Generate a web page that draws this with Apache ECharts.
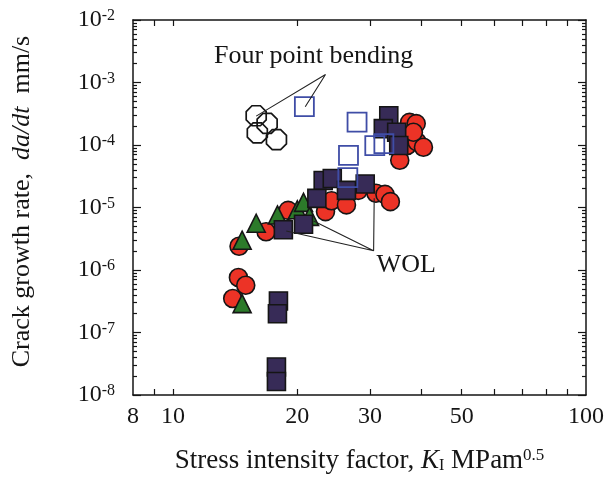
<!DOCTYPE html>
<html><head><meta charset="utf-8">
<script src="https://cdn.jsdelivr.net/npm/echarts@6/dist/echarts.min.js"></script>
<style>html,body{margin:0;padding:0;background:#fff}#c{width:607px;height:479px}</style>
</head><body><div id="c"></div>
<script>
// ---- tick values ----
const xLabelValues = [8, 10, 20, 30, 50, 100];
const xTickValues = [9, 10, 20, 30, 40, 50, 60, 70, 80, 90];
const yLabelValues = [1e-8, 1e-7, 1e-6, 1e-5, 1e-4, 1e-3, 1e-2];

// ---- data (K in MPa m^0.5, da/dt in mm/s) ----
const circleK    = [35.4, 36.9, 35.2, 37.1, 36.3, 37.5, 37.4, 38.8, 39.0, 40.4, 38.2,
                    14.45, 16.8, 19.0, 23.4, 24.2, 26.3, 28.1, 31.0, 32.6, 33.6,
                    14.4, 15.0, 13.95];
const circleRate = [5.7e-5, 9.8e-5, 1.25e-4, 1.45e-4, 1.65e-4, 1.9e-4, 2.3e-4, 2.2e-4, 1.12e-4, 9.2e-5, 1.6e-4,
                    2.4e-6, 4.1e-6, 9.0e-6, 8.6e-6, 1.28e-5, 1.1e-5, 1.88e-5, 1.69e-5, 1.62e-5, 1.24e-5,
                    7.6e-7, 5.7e-7, 3.5e-7];

const triK    = [14.7, 15.9, 17.9, 20.0, 20.7, 21.4, 14.7];
const triRate = [3.0e-6, 5.6e-6, 7.6e-6, 9.2e-6, 1.21e-5, 7.2e-6, 2.9e-7];

const sqK    = [33.3, 32.3, 34.8, 35.2, 23.1, 24.3, 29.2, 22.3, 26.3, 20.7, 18.5, 18.0, 17.9, 17.8, 17.8];
const sqRate = [2.94e-4, 1.83e-4, 1.6e-4, 9.8e-5, 2.71e-5, 2.91e-5, 2.38e-5, 1.4e-5, 1.88e-5, 5.4e-6, 4.4e-6,
                3.2e-7, 2.0e-7, 2.8e-8, 1.64e-8];

const openSqK    = [20.8, 27.9, 30.8, 32.4, 26.6, 26.5];
const openSqRate = [4.1e-4, 2.33e-4, 9.8e-5, 1.05e-4, 6.8e-5, 3.0e-5];

const octK    = [15.9, 16.9, 16.0, 17.8];
const octRate = [2.94e-4, 2.22e-4, 1.56e-4, 1.22e-4];

// annotation leader lines (end -> apex -> end ...)
const fpbLineK    = [20.9, 23.4, 15.9];
const fpbLineRate = [4.1e-4, 1.34e-3, 2.9e-4];
const wolLineK    = [18.8, 30.6, 21.9, 30.6, 30.7];
const wolLineRate = [4.2e-6, 2.03e-6, 6.1e-6, 2.03e-6, 1.4e-5];

const annotText = ['Four point bending', 'WOL'];
const annotK    = [21.9, 36.7];
const annotRate = [2.59e-3, 1.175e-6];

// ---- build ----
const FONT = 'Liberation Serif';
const INK = '#151515';
const pairs = (a, b) => a.map((v, i) => [v, b[i]]);
const yMinor = [];
for (let e = -8; e < -2; e++) for (let m = 2; m <= 9; m++) yMinor.push(m * Math.pow(10, e));

const axisLineStyle = { color: INK, width: 1.5 };
const xBase = (pos, showLabel) => ({
  type: 'log', logBase: 10, min: 8, max: 100, position: pos,
  axisLine: { show: true, onZero: false, lineStyle: axisLineStyle },
  axisTick: { show: true, inside: true, length: 6, customValues: xTickValues, lineStyle: { color: INK, width: 1.2 } },
  axisLabel: { show: showLabel, customValues: xLabelValues, formatter: v => String(Math.round(v)),
               fontFamily: FONT, fontSize: 24, color: INK, margin: 10 },
  splitLine: { show: false }, minorTick: { show: false }
});
const yBase = (pos, major, showLine) => ({
  type: 'log', logBase: 10, min: 1e-8, max: 1e-2, position: pos,
  axisLine: { show: showLine, onZero: false, lineStyle: axisLineStyle },
  axisTick: { show: true, inside: true, length: major ? 8 : 4, customValues: major ? yLabelValues : yMinor,
              lineStyle: { color: INK, width: 1.2 } },
  axisLabel: { show: false },
  splitLine: { show: false }
});

const x0 = xBase('bottom', true);
x0.name = 'Stress intensity factor, {i|K}{s|I} MPam{p|0.5}';
x0.nameLocation = 'middle';
x0.nameGap = 52;
x0.nameTextStyle = { fontFamily: FONT, fontSize: 27, color: INK,
  rich: { i: { fontFamily: FONT, fontSize: 27, fontStyle: 'italic', color: INK },
          s: { fontFamily: FONT, fontSize: 16, color: INK, verticalAlign: 'bottom', padding: [8, 0, 0, 0] },
          p: { fontFamily: FONT, fontSize: 17, color: INK, verticalAlign: 'top', padding: [0, 0, 10, 0] } } };

const y0 = yBase('left', true, true);
y0.axisLabel = { show: true, customValues: yLabelValues,
  formatter: v => '{a|10}{b|' + Math.round(Math.log10(v)) + '}',
  margin: 18, color: INK,
  rich: { a: { fontFamily: FONT, fontSize: 24, color: INK },
          b: { fontFamily: FONT, fontSize: 16, color: INK, verticalAlign: 'top', padding: [0, 0, 8, 0] } } };
y0.name = 'Crack growth rate,  {i|da/dt}  mm/s';
y0.nameLocation = 'middle';
y0.nameGap = 98;
y0.nameTextStyle = { fontFamily: FONT, fontSize: 26, color: INK, padding: [0, 0, 0, 12],
  rich: { i: { fontFamily: FONT, fontSize: 26, fontStyle: 'italic', color: INK } } };

const mk = (name, k, r, symbol, size, style, z) => ({
  name, type: 'scatter', xAxisIndex: 0, yAxisIndex: 0, symbol, symbolSize: size, z,
  itemStyle: Object.assign({ opacity: 1 }, style), data: pairs(k, r), emphasis: { disabled: true }
});
const octagon = 'path://M29,0 L71,0 L100,29 L100,71 L71,100 L29,100 L0,71 L0,29 Z';

const option = {
  animation: false,
  backgroundColor: '#fff',
  grid: { left: 133, right: 20, top: 20, bottom: 81, containLabel: false },
  xAxis: [x0, xBase('top', false)],
  yAxis: [y0, yBase('left', false, false), yBase('right', true, true), yBase('right', false, false)],
  series: [
    mk('circles', circleK, circleRate, 'circle', 18, { color: '#ec3326', borderColor: INK, borderWidth: 1.6 }, 2),
    mk('triangles', triK, triRate, 'triangle', 18, { color: '#2c7a2a', borderColor: INK, borderWidth: 1.6 }, 3),
    mk('squares', sqK, sqRate, 'rect', 18, { color: '#372b57', borderColor: INK, borderWidth: 1.6 }, 4),
    mk('open squares', openSqK, openSqRate, 'rect', 19, { color: 'rgba(255,255,255,0)', borderColor: '#3f4da6', borderWidth: 1.8 }, 5),
    mk('four point', octK, octRate, octagon, 20, { color: 'rgba(255,255,255,0)', borderColor: INK, borderWidth: 1.7 }, 6),
    { type: 'line', xAxisIndex: 0, yAxisIndex: 0, data: pairs(fpbLineK, fpbLineRate), symbol: 'none', z: 7,
      lineStyle: { color: '#222', width: 1.1 }, emphasis: { disabled: true } },
    { type: 'line', xAxisIndex: 0, yAxisIndex: 0, data: pairs(wolLineK, wolLineRate), symbol: 'none', z: 7,
      lineStyle: { color: '#222', width: 1.1 }, emphasis: { disabled: true } },
    { type: 'scatter', xAxisIndex: 0, yAxisIndex: 0, symbolSize: 1, z: 8,
      itemStyle: { color: 'rgba(0,0,0,0)', opacity: 1 },
      data: annotK.map((k, i) => ({ value: [k, annotRate[i]], name: annotText[i] })),
      label: { show: true, position: 'inside', formatter: p => p.name, fontFamily: FONT, fontSize: 26,
               color: INK, textBorderWidth: 0 },
      emphasis: { disabled: true } }
  ]
};
const chart = echarts.init(document.getElementById('c'), null, { renderer: 'canvas' });
chart.setOption(option);
</script>
</body></html>
